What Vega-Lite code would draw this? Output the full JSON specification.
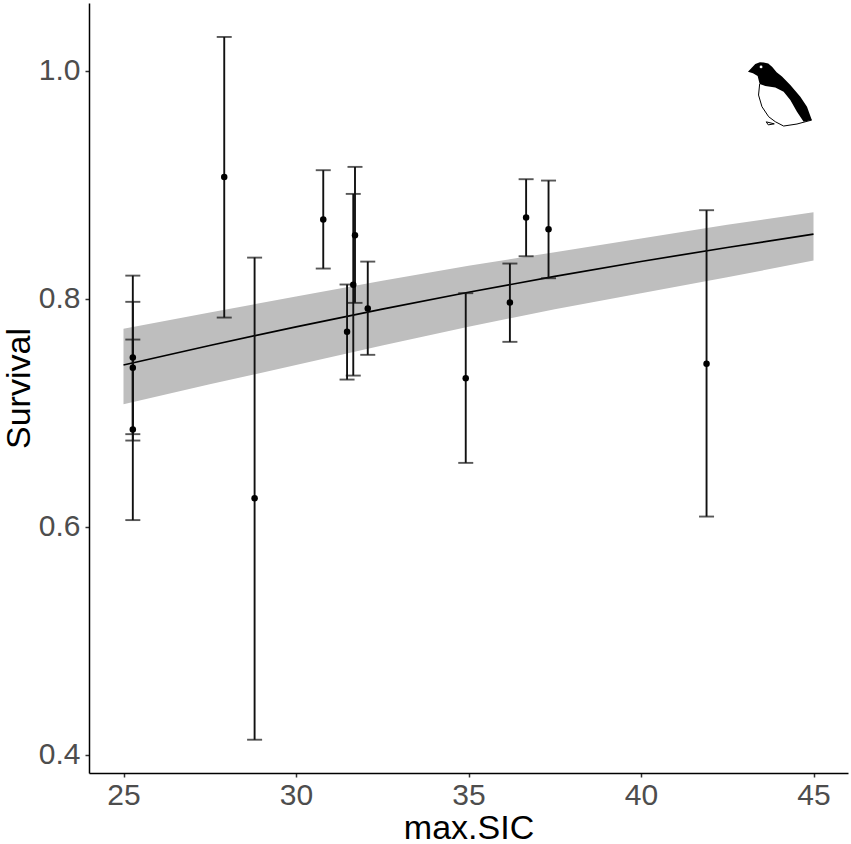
{
  "$schema": "https://vega.github.io/schema/vega-lite/v6.json",
  "width": 759,
  "height": 770,
  "autosize": "none",
  "padding": {"left": 89, "top": 3, "right": 3, "bottom": 71},
  "background": "white",
  "config": {
    "view": {"stroke": null},
    "font": "Liberation Sans",
    "axis": {
      "grid": false,
      "domainColor": "#000000",
      "domainWidth": 1.5,
      "tickColor": "#333333",
      "tickWidth": 1.5,
      "tickSize": 4,
      "labelFont": "Liberation Sans",
      "labelFontSize": 30,
      "labelColor": "#4d4d4d",
      "titleFont": "Liberation Sans",
      "titleFontSize": 34,
      "titleFontWeight": "normal",
      "titleColor": "#000000"
    }
  },
  "datasets": {
    "estimates": [
      {"maxSIC": 25.27, "survival": 0.7485, "lower": 0.6757, "upper": 0.8204},
      {"maxSIC": 25.27, "survival": 0.7395, "lower": 0.6813, "upper": 0.7974},
      {"maxSIC": 25.27, "survival": 0.6853, "lower": 0.6059, "upper": 0.7643},
      {"maxSIC": 27.92, "survival": 0.907, "lower": 0.7836, "upper": 1.0298},
      {"maxSIC": 28.8, "survival": 0.625, "lower": 0.4132, "upper": 0.8362},
      {"maxSIC": 30.79, "survival": 0.8696, "lower": 0.8266, "upper": 0.9129},
      {"maxSIC": 31.48, "survival": 0.7711, "lower": 0.7292, "upper": 0.8126},
      {"maxSIC": 31.71, "survival": 0.8559, "lower": 0.7965, "upper": 0.9158},
      {"maxSIC": 31.66, "survival": 0.8123, "lower": 0.7327, "upper": 0.8921},
      {"maxSIC": 32.08, "survival": 0.7915, "lower": 0.7509, "upper": 0.8327},
      {"maxSIC": 34.92, "survival": 0.7304, "lower": 0.6561, "upper": 0.805},
      {"maxSIC": 36.2, "survival": 0.7968, "lower": 0.7623, "upper": 0.831},
      {"maxSIC": 36.67, "survival": 0.8713, "lower": 0.8374, "upper": 0.905},
      {"maxSIC": 37.32, "survival": 0.8611, "lower": 0.8181, "upper": 0.9038},
      {"maxSIC": 41.9, "survival": 0.743, "lower": 0.609, "upper": 0.8778}
    ],
    "fit": [
      {"maxSIC": 25, "fit": 0.742, "lo": 0.7076, "hi": 0.7737},
      {"maxSIC": 27.5, "fit": 0.7591, "lo": 0.725, "hi": 0.788},
      {"maxSIC": 30, "fit": 0.7755, "lo": 0.742, "hi": 0.802},
      {"maxSIC": 32.5, "fit": 0.791, "lo": 0.759, "hi": 0.816},
      {"maxSIC": 35, "fit": 0.8058, "lo": 0.7756, "hi": 0.829},
      {"maxSIC": 37.5, "fit": 0.8197, "lo": 0.791, "hi": 0.841},
      {"maxSIC": 40, "fit": 0.8328, "lo": 0.805, "hi": 0.853},
      {"maxSIC": 42.5, "fit": 0.8451, "lo": 0.819, "hi": 0.865},
      {"maxSIC": 45, "fit": 0.8568, "lo": 0.8336, "hi": 0.876}
    ],
    "icon": [{"species": "little auk"}]
  },
  "layer": [
    {
      "data": {"name": "fit"},
      "mark": {"type": "area", "color": "#bebebe", "opacity": 1},
      "encoding": {
        "x": {
          "field": "maxSIC",
          "type": "quantitative",
          "scale": {"domain": [24, 46], "nice": false, "zero": false},
          "axis": {"title": "max.SIC", "values": [25, 30, 35, 40, 45], "labelPadding": 3, "titlePadding": 1}
        },
        "y": {
          "field": "lo",
          "type": "quantitative",
          "scale": {"domain": [0.384, 1.0596], "nice": false, "zero": false},
          "axis": {"title": "Survival", "values": [0.4, 0.6, 0.8, 1.0], "format": ".1f", "labelPadding": 5, "titlePadding": 9, "titleBaseline": "alphabetic"}
        },
        "y2": {"field": "hi"}
      }
    },
    {
      "data": {"name": "fit"},
      "mark": {"type": "line", "color": "#000000", "strokeWidth": 1.7},
      "encoding": {
        "x": {"field": "maxSIC", "type": "quantitative"},
        "y": {"field": "fit", "type": "quantitative"}
      }
    },
    {
      "data": {"name": "estimates"},
      "mark": {"type": "rule", "color": "#111111", "strokeWidth": 1.9},
      "encoding": {
        "x": {"field": "maxSIC", "type": "quantitative"},
        "y": {"field": "lower", "type": "quantitative"},
        "y2": {"field": "upper"}
      }
    },
    {
      "data": {"name": "estimates"},
      "mark": {"type": "tick", "orient": "horizontal", "color": "#111111", "size": 15, "thickness": 1.9},
      "encoding": {
        "x": {"field": "maxSIC", "type": "quantitative"},
        "y": {"field": "lower", "type": "quantitative"}
      }
    },
    {
      "data": {"name": "estimates"},
      "mark": {"type": "tick", "orient": "horizontal", "color": "#111111", "size": 15, "thickness": 1.9},
      "encoding": {
        "x": {"field": "maxSIC", "type": "quantitative"},
        "y": {"field": "upper", "type": "quantitative"}
      }
    },
    {
      "data": {"name": "estimates"},
      "mark": {"type": "circle", "color": "#000000", "size": 42, "opacity": 1},
      "encoding": {
        "x": {"field": "maxSIC", "type": "quantitative"},
        "y": {"field": "survival", "type": "quantitative"}
      }
    },
    {
      "data": {"name": "icon"},
      "mark": {
        "type": "point",
        "filled": true,
        "color": "#000000",
        "opacity": 1,
        "size": 4489,
        "shape": "M-0.905,-0.637 L-0.8,-0.75 L-0.687,-0.866 L-0.55,-0.92 L-0.438,-0.915 L-0.3,-0.88 L-0.18,-0.78 L-0.05,-0.62 L0.11,-0.49 L0.358,-0.239 L0.657,0.109 L0.856,0.408 L1.0,0.806 L0.756,0.856 L0.557,0.557 L0.358,0.209 L0.159,-0.04 L-0.09,-0.169 L-0.388,-0.209 L-0.557,-0.269 L-0.617,-0.507 L-0.756,-0.587 Z"
      },
      "encoding": {
        "x": {"datum": 43.98, "type": "quantitative"},
        "y": {"datum": 0.9806, "type": "quantitative"}
      }
    },
    {
      "data": {"name": "icon"},
      "mark": {
        "type": "point",
        "filled": false,
        "stroke": "#000000",
        "strokeWidth": 1,
        "opacity": 1,
        "size": 4489,
        "shape": "M-0.557,-0.269 L-0.59,0.06 L-0.488,0.408 L-0.289,0.706 L-0.09,0.856 L0.159,0.985 L0.557,0.925 L1.0,0.806 M-0.36,0.86 L-0.12,0.92 L-0.3,0.95 Z"
      },
      "encoding": {
        "x": {"datum": 43.98, "type": "quantitative"},
        "y": {"datum": 0.9806, "type": "quantitative"}
      }
    },
    {
      "data": {"name": "icon"},
      "mark": {"type": "circle", "color": "#ffffff", "size": 8, "opacity": 1},
      "encoding": {
        "x": {"datum": 43.48, "type": "quantitative"},
        "y": {"datum": 1.0035, "type": "quantitative"}
      }
    }
  ]
}
